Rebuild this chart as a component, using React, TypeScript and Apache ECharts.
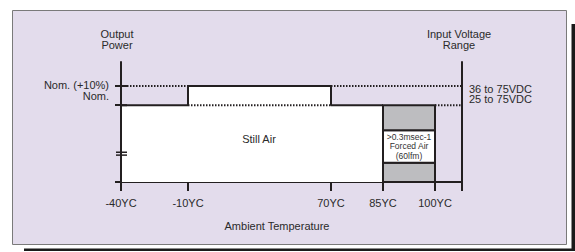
import React, { useEffect, useRef } from "react";
import * as echarts from "echarts";

// Temperature breakpoints (schematic, non-linear horizontal scale)
const tempLabels = ["-40ΥC", "-10ΥC", "70ΥC", "85ΥC", "100ΥC"];
const tempPos = [0, 67, 210, 262, 314];
const rangeAxisPos = 341;

// Output power levels (schematic, broken vertical scale)
const levelNom = 80;
const levelPlus10 = 100;
const levelTop = 125;
const levels = [levelPlus10, levelNom]; // top to bottom
const powerLevelLabels = ["Nom. (+10%)", "Nom."]; // top to bottom
const voltageLabels = ["36 to 75VDC", "25 to 75VDC"]; // top to bottom

// Still-air derating profile (x position, level)
const stillAirProfile: [number, number][] = [
  [0, 80],
  [67, 80],
  [67, 100],
  [210, 100],
  [210, 80],
  [262, 80],
];

// Forced-air box segments: [x0, x1, y0, y1, kind]
const forcedAirSegments: [number, number, number, number, string][] = [
  [262, 314, 0, 20, "gray"],
  [262, 314, 20, 54, "white"],
  [262, 314, 54, 80, "gray"],
];
const forcedAirText = ">0.3msec-1\nForced Air\n(60lfm)";

// Dotted reference lines [x0, x1, level]
const dottedLines: [number, number, number][] = [
  [0, 67, 100],
  [210, 341, 100],
  [67, 210, 80],
  [314, 341, 80],
];

// Short solid strokes: axis break marks, tick stubs, axis stub [x0, x1, level, width]
const solidStrokes: [number, number, number, number][] = [
  [-5, 6, 31, 1.5],
  [-5, 6, 28, 1.5],
  [0, 6, 80, 2],
  [0, 6, 100, 2],
  [-6, 0, 0, 2],
];

const FONT = "Liberation Sans, Arial, Helvetica, sans-serif";
const INK = "#231f20";
const TXT = "#2a2a2a";
const FS = 11;
// vertical nudges of the level labels (px), top to bottom
const leftNudge = [-1.5, -9];
const rightNudge = [2.5, -6];

export default function App() {
  const ref = useRef<HTMLDivElement>(null);
  useEffect(() => {
    if (!ref.current) return;
    const chart = echarts.init(ref.current, null, { renderer: "svg" });
    const series: any[] = [
      {
        type: "line",
        data: stillAirProfile,
        symbol: "none",
        areaStyle: { color: "#ffffff", opacity: 1 },
        lineStyle: { color: INK, width: 2 },
        z: 2,
      },
      {
        type: "custom",
        data: forcedAirSegments,
        z: 3,
        renderItem: (params: any, api: any) => {
          const d = forcedAirSegments[params.dataIndex];
          const p0 = api.coord([d[0], d[3]]);
          const p1 = api.coord([d[1], d[2]]);
          const children: any[] = [
            {
              type: "rect",
              shape: { x: p0[0], y: p0[1], width: p1[0] - p0[0], height: p1[1] - p0[1] },
              style: { fill: d[4] === "gray" ? "#bdbdc0" : "#ffffff", stroke: INK, lineWidth: 2 },
            },
          ];
          if (d[4] === "white") {
            children.push({
              type: "text",
              x: (p0[0] + p1[0]) / 2,
              y: (p0[1] + p1[1]) / 2,
              style: {
                text: forcedAirText,
                fontSize: 8.5,
                fontFamily: FONT,
                fill: "#333",
                align: "center",
                verticalAlign: "middle",
                lineHeight: 9.5,
              },
            });
          }
          return { type: "group", children };
        },
      },
      ...dottedLines.map((l) => ({
        type: "line",
        data: [
          [l[0], l[2]],
          [l[1], l[2]],
        ],
        symbol: "none",
        lineStyle: { color: INK, width: 2, type: [1.5, 1.5] },
        z: 4,
      })),
      {
        type: "custom",
        data: solidStrokes,
        clip: false,
        z: 6,
        renderItem: (params: any, api: any) => {
          const s = solidStrokes[params.dataIndex];
          const a = api.coord([s[0], s[2]]);
          const b = api.coord([s[1], s[2]]);
          return {
            type: "line",
            shape: { x1: a[0], y1: a[1], x2: b[0], y2: b[1] },
            style: { stroke: INK, lineWidth: s[3] },
          };
        },
      },
      {
        type: "custom",
        data: levels.map((lv) => [0, lv]),
        clip: false,
        z: 7,
        renderItem: (params: any, api: any) => {
          const i = params.dataIndex;
          const lv = levels[i];
          const pl = api.coord([0, lv]);
          const pr = api.coord([rangeAxisPos, lv]);
          return {
            type: "group",
            children: [
              {
                type: "text",
                x: pl[0] - 12,
                y: pl[1] + leftNudge[i],
                style: {
                  text: powerLevelLabels[i],
                  fontSize: FS,
                  fontFamily: FONT,
                  fill: TXT,
                  align: "right",
                  verticalAlign: "middle",
                },
              },
              {
                type: "text",
                x: pr[0] + 7,
                y: pr[1] + rightNudge[i],
                style: {
                  text: voltageLabels[i],
                  fontSize: FS,
                  fontFamily: FONT,
                  fill: TXT,
                  align: "left",
                  verticalAlign: "middle",
                },
              },
            ],
          };
        },
      },
      {
        type: "line",
        data: [
          [0, 0],
          [0, levelTop],
        ],
        symbol: "none",
        lineStyle: { color: INK, width: 2 },
        z: 6,
      },
    ];

    chart.setOption({
      animation: false,
      textStyle: { fontFamily: FONT },
      grid: {
        left: 121,
        top: 62,
        width: rangeAxisPos,
        height: 120,
        containLabel: false,
        outerBoundsMode: "none",
      },
      xAxis: {
        type: "value",
        min: 0,
        max: rangeAxisPos,
        splitLine: { show: false },
        axisLine: { show: true, onZero: false, lineStyle: { color: INK, width: 2 } },
        axisTick: {
          show: true,
          customValues: [...tempPos, rangeAxisPos],
          length: 9,
          lineStyle: { color: INK, width: 2 },
        },
        axisLabel: {
          customValues: tempPos,
          formatter: (v: number) => tempLabels[tempPos.indexOf(v)] ?? "",
          margin: 15,
          fontSize: FS,
          color: TXT,
          fontFamily: FONT,
          hideOverlap: false,
        },
      },
      yAxis: [
        {
          type: "value",
          min: 0,
          max: levelTop,
          position: "left",
          splitLine: { show: false },
          name: "Output\nPower",
          nameLocation: "end",
          nameGap: 12,
          nameTextStyle: {
            fontSize: FS,
            color: TXT,
            fontFamily: FONT,
            lineHeight: 11,
            align: "center",
            padding: [0, 8, 0, 0],
          },
          axisLine: { show: true, onZero: false, lineStyle: { color: INK, width: 2 } },
          axisTick: {
            show: true,
            customValues: [levelNom, levelPlus10],
            length: 6,
            lineStyle: { color: INK, width: 2 },
          },
          axisLabel: { show: false },
        },
        {
          type: "value",
          min: 0,
          max: levelTop,
          position: "right",
          splitLine: { show: false },
          name: "Input Voltage\nRange",
          nameLocation: "end",
          nameGap: 12,
          nameTextStyle: {
            fontSize: FS,
            color: TXT,
            fontFamily: FONT,
            lineHeight: 11,
            align: "center",
            padding: [0, 6, 0, 0],
          },
          axisLine: { show: true, onZero: false, lineStyle: { color: INK, width: 2 } },
          axisTick: { show: false },
          axisLabel: { show: false },
        },
      ],
      graphic: [
        {
          type: "rect",
          z: -10,
          shape: { x: 12.5, y: 10.5, width: 554, height: 234 },
          style: { fill: "#e3dcec", stroke: "#7a7a7a", lineWidth: 1 },
        },
        {
          type: "rect",
          z: -10,
          shape: { x: 571.5, y: 24, width: 3.5, height: 227 },
          style: { fill: "#1a1a1a" },
        },
        {
          type: "rect",
          z: -10,
          shape: { x: 24, y: 248.5, width: 551, height: 2.5 },
          style: { fill: "#1a1a1a" },
        },
        {
          type: "text",
          x: 259,
          y: 139,
          style: {
            text: "Still Air",
            fontSize: FS,
            fontFamily: FONT,
            fill: TXT,
            align: "center",
            verticalAlign: "middle",
          },
          z: 10,
        },
        {
          type: "text",
          x: 277,
          y: 226,
          style: {
            text: "Ambient Temperature",
            fontSize: FS,
            fontFamily: FONT,
            fill: TXT,
            align: "center",
            verticalAlign: "middle",
          },
          z: 10,
        },
      ],
      series,
    });
    return () => chart.dispose();
  }, []);
  return (
    <div
      ref={ref}
      style={{ position: "fixed", left: 0, top: 0, width: 575, height: 252, background: "#ffffff" }}
    />
  );
}
